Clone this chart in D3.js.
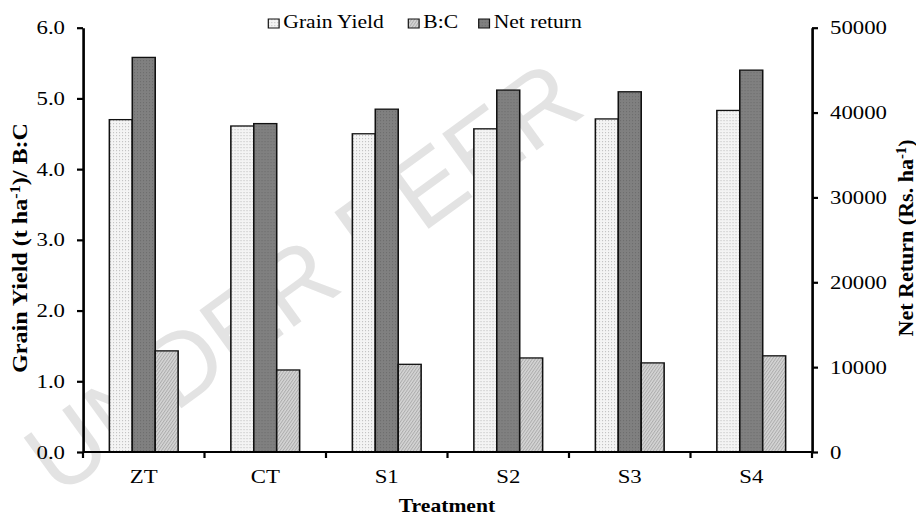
<!DOCTYPE html>
<html>
<head>
<meta charset="utf-8">
<script src="https://cdn.jsdelivr.net/npm/d3@7"></script>
<style>
  html, body { margin: 0; padding: 0; background: #fff; }
  svg { display: block; }
  text { font-family: "Liberation Serif", "Times New Roman", serif; }
  text.wm { font-family: "Liberation Sans", Arial, sans-serif; }
</style>
</head>
<body>
<div id="chart"></div>
<script>
// ---- Data ----
const categories = ["ZT", "CT", "S1", "S2", "S3", "S4"];
const grainYield = [4.70, 4.61, 4.50, 4.57, 4.71, 4.83];
const benefitCost = [1.43, 1.16, 1.24, 1.33, 1.26, 1.36];
const netReturn = [46500, 38700, 40400, 42650, 42450, 45000];
const leftTicks = [0, 1, 2, 3, 4, 5, 6];
const rightTicks = [0, 10000, 20000, 30000, 40000, 50000];
const seriesNames = ["Grain Yield", "Net return", "B:C"];   // bar order within group
const legendNames = ["Grain Yield", "B:C", "Net return"];   // legend order

// ---- Layout (the picture is stretched horizontally) ----
const W = 916, H = 519, SX = 1.2;
const VW = W / SX;
const L = 83 / SX, R = 812 / SX, T = 27.7, B = 452;

const svg = d3.select("#chart").append("svg")
  .attr("width", W).attr("height", H)
  .attr("viewBox", `0 0 ${VW} ${H}`)
  .attr("preserveAspectRatio", "none");

// patterns
const defs = svg.append("defs");
const pGY = defs.append("pattern").attr("id", "pGY").attr("patternUnits", "userSpaceOnUse")
  .attr("width", 2.5).attr("height", 3);
pGY.append("rect").attr("width", 2.5).attr("height", 3).attr("fill", "#f4f4f4");
pGY.append("rect").attr("width", 0.9).attr("height", 1.2).attr("fill", "#c4c4c4");

const pNR = defs.append("pattern").attr("id", "pNR").attr("patternUnits", "userSpaceOnUse")
  .attr("width", 2.5).attr("height", 3);
pNR.append("rect").attr("width", 2.5).attr("height", 3).attr("fill", "#808080");
pNR.append("rect").attr("width", 0.9).attr("height", 1.2).attr("fill", "#6e6e6e");

const pBC = defs.append("pattern").attr("id", "pBC").attr("patternUnits", "userSpaceOnUse")
  .attr("width", 2.5).attr("height", 3).attr("patternTransform", "skewX(-30)");
pBC.append("rect").attr("width", 2.5).attr("height", 3).attr("fill", "#d6d6d6");
pBC.append("rect").attr("width", 1.0).attr("height", 3).attr("fill", "#acacac");

const fills = { "Grain Yield": "url(#pGY)", "Net return": "url(#pNR)", "B:C": "url(#pBC)" };

// watermark (behind everything), drawn in screen pixels
svg.append("g").attr("transform", `scale(${1 / SX},1)`)
  .append("text")
  .attr("class", "wm")
  .attr("transform", "translate(58,498) rotate(-36)")
  .attr("font-size", 100)
  .attr("fill", "#e3e3e3")
  .text("UNDER PEER");

// ---- Scales ----
const x0 = d3.scaleBand().domain(categories).range([L, R]).paddingInner(0).paddingOuter(0);
const x1 = d3.scaleBand().domain(seriesNames).range([0, x0.bandwidth()])
  .paddingInner(0).paddingOuter(1.15);
const yL = d3.scaleLinear().domain([0, 6]).range([B, T]);
const yR = d3.scaleLinear().domain([0, 50000]).range([B, T]);

const rows = categories.map((c, i) => ({
  cat: c,
  vals: [
    { s: "Grain Yield", v: grainYield[i], y: yL },
    { s: "Net return", v: netReturn[i], y: yR },
    { s: "B:C", v: benefitCost[i], y: yL }
  ]
}));

// ---- Bars ----
const g = svg.append("g").selectAll("g").data(rows).join("g")
  .attr("transform", d => `translate(${x0(d.cat)},0)`);
g.selectAll("rect").data(d => d.vals).join("rect")
  .attr("x", d => x1(d.s))
  .attr("width", x1.bandwidth())
  .attr("y", d => d.y(d.v))
  .attr("height", d => B - d.y(d.v))
  .attr("fill", d => fills[d.s])
  .attr("stroke", "#111")
  .attr("stroke-width", 1.3);

// ---- Axes ----
const fontSize = 19;
const axL = svg.append("g").attr("transform", `translate(${L},0)`)
  .call(d3.axisLeft(yL).tickValues(leftTicks).tickFormat(d3.format(".1f")).tickSize(5).tickPadding(10).tickSizeOuter(0));
const axR = svg.append("g").attr("transform", `translate(${R},0)`)
  .call(d3.axisRight(yR).tickValues(rightTicks).tickFormat(d3.format("d")).tickSize(5).tickPadding(10).tickSizeOuter(0));
[axL, axR].forEach(a => {
  a.select(".domain").attr("stroke", "#000").attr("stroke-width", 2.2);
  a.selectAll(".tick line").attr("stroke", "#000").attr("stroke-width", 2.2);
  a.selectAll(".tick text").attr("font-size", fontSize).attr("fill", "#000");
});

// x axis: baseline, tick marks between categories, labels centered
const boundaries = categories.map(c => x0(c)).concat([R]);
const xa = svg.append("g");
xa.append("line").attr("x1", L).attr("x2", R).attr("y1", B).attr("y2", B)
  .attr("stroke", "#000").attr("stroke-width", 2.2);
xa.selectAll("line.tk").data(boundaries).join("line").attr("class", "tk")
  .attr("x1", d => d).attr("x2", d => d).attr("y1", B).attr("y2", B + 6)
  .attr("stroke", "#000").attr("stroke-width", 2.2 / SX);
xa.selectAll("text").data(categories).join("text")
  .attr("x", d => x0(d) + x0.bandwidth() / 2)
  .attr("y", 483)
  .attr("text-anchor", "middle")
  .attr("font-size", fontSize)
  .text(d => d);

// ---- Axis titles ----
svg.append("text")
  .attr("x", 447 / SX).attr("y", 512)
  .attr("text-anchor", "middle").attr("font-weight", "bold").attr("font-size", 18)
  .text("Treatment");

const lt = svg.append("text")
  .attr("transform", `translate(${27 / SX},248) rotate(-90)`)
  .attr("text-anchor", "middle").attr("font-weight", "bold").attr("font-size", 18)
  .attr("textLength", 250).attr("lengthAdjust", "spacingAndGlyphs");
lt.append("tspan").text("Grain Yield (t ha");
lt.append("tspan").attr("dy", -6).attr("font-size", 12).text("-1");
lt.append("tspan").attr("dy", 6).text(")/ B:C");

const rt = svg.append("text")
  .attr("transform", `translate(${913 / SX},238) rotate(-90)`)
  .attr("text-anchor", "middle").attr("font-weight", "bold").attr("font-size", 18)
  .attr("textLength", 197).attr("lengthAdjust", "spacingAndGlyphs");
rt.append("tspan").text("Net Return (Rs. ha");
rt.append("tspan").attr("dy", -6).attr("font-size", 12).text("-1");
rt.append("tspan").attr("dy", 6).text(")");

// ---- Legend ----
const legendX = { "Grain Yield": 268.3, "B:C": 408.3, "Net return": 478.7 };
const lg = svg.append("g").selectAll("g").data(legendNames).join("g")
  .attr("transform", d => `translate(${legendX[d] / SX},19)`);
lg.append("rect").attr("width", 9).attr("height", 9)
  .attr("fill", d => fills[d]).attr("stroke", "#111").attr("stroke-width", 1);
lg.append("text").attr("x", 12.5).attr("y", 9.3).attr("font-size", 18).text(d => d);
</script>
</body>
</html>
